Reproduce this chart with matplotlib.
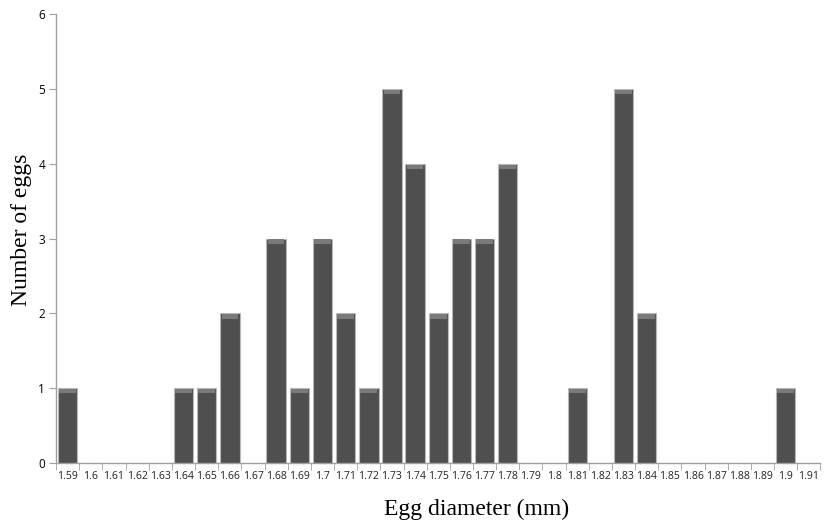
import matplotlib.pyplot as plt
import numpy as np

# 蛋径类别 (mm) 与数量
diameters = ['1.59', '1.6', '1.61', '1.62', '1.63', '1.64', '1.65', '1.66', '1.67', '1.68',
             '1.69', '1.7', '1.71', '1.72', '1.73', '1.74', '1.75', '1.76', '1.77', '1.78',
             '1.79', '1.8', '1.81', '1.82', '1.83', '1.84', '1.85', '1.86', '1.87', '1.88',
             '1.89', '1.9', '1.91']
counts = [1, 0, 0, 0, 0, 1, 1, 2, 0, 3,
          1, 3, 2, 1, 5, 4, 2, 3, 3, 4,
          0, 0, 1, 0, 5, 2, 0, 0, 0, 0,
          0, 1, 0]

x = np.arange(len(diameters))
counts = np.array(counts)

fig = plt.figure(figsize=(8.38, 5.26), dpi=100)
ax = fig.add_axes([0.067, 0.12, 0.912, 0.853])

# 柱子
ax.bar(x, counts, width=0.84, color='#4f4f4f', edgecolor='#b8b8b8', linewidth=0.8, zorder=2)
# 顶部高光
top = np.where(counts > 0, 0.06, 0)
ax.bar(x, top, width=0.72, bottom=counts - 0.07, color='#7a7a7a', linewidth=0, zorder=3)

ax.set_xlim(-0.5, len(diameters) - 0.5)
ax.set_ylim(0, 6)
ax.set_yticks(range(0, 7))

# 刻度线放在类别边界
ax.set_xticks(x)
ax.set_xticklabels(diameters, fontsize=7.6, family='Open Sans', color='#222222')
ax.set_xticks(np.arange(-0.5, len(diameters), 1), minor=True)
ax.tick_params(axis='x', which='major', length=0, pad=6)
ax.tick_params(axis='x', which='minor', length=5, color='#a0a0a0')
ax.tick_params(axis='y', length=5, color='#a0a0a0', labelsize=8.5, pad=3)
for lab in ax.get_yticklabels():
    lab.set_family('Open Sans')

for s in ['top', 'right']:
    ax.spines[s].set_visible(False)
for s in ['left', 'bottom']:
    ax.spines[s].set_color('#a0a0a0')
    ax.spines[s].set_linewidth(1.0)

ax.set_xlabel('Egg diameter (mm)', fontsize=17, family='Liberation Serif')
ax.set_ylabel('Number of eggs', fontsize=17, family='Liberation Serif')
ax.xaxis.set_label_coords(0.55, -0.08)
ax.yaxis.set_label_coords(-0.032, 0.52)

plt.savefig('out.png', dpi=100)
